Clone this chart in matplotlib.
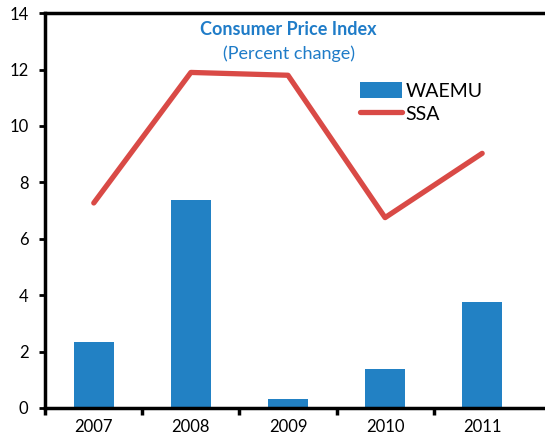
import numpy as np
import matplotlib.pyplot as plt

plt.rcParams['font.family'] = ['Lato', 'DejaVu Sans']

years = ["2007", "2008", "2009", "2010", "2011"]
waemu = [2.33, 7.38, 0.33, 1.37, 3.76]
ssa = [7.27, 11.9, 11.8, 6.75, 9.03]

x = np.arange(len(years))

fig = plt.figure(figsize=(5.45, 4.41), dpi=100)
ax = fig.add_axes([0.083, 0.075, 0.93, 0.895])

bars = ax.bar(x, waemu, width=0.41, color="#2281c4", label="WAEMU", zorder=2)
line, = ax.plot(x, ssa, color="#d94a46", linewidth=3.8, solid_capstyle="round", label="SSA", zorder=3)

ax.set_xlim(-0.5, 4.72)
ax.set_ylim(0, 14)
ax.set_yticks(np.arange(0, 15, 2))
ax.set_xticks(x)
ax.set_xticklabels(years)
ax.set_xticks(np.arange(-0.5, 4.0, 1.0), minor=True)
ax.tick_params(axis="x", which="major", length=0, labelsize=12, pad=8)
ax.tick_params(axis="x", which="minor", length=5, width=2.5, direction="out")
ax.tick_params(axis="y", length=4, width=2, labelsize=12, pad=8)

for s in ax.spines.values():
    s.set_linewidth(2.5)
ax.spines["right"].set_visible(False)

ax.text(0.48, 0.945, "Consumer Price Index", transform=ax.transAxes, ha="center",
        fontsize=13, fontweight="bold", color="#1f7cc8")
ax.text(0.48, 0.885, "(Percent change)", transform=ax.transAxes, ha="center",
        fontsize=13, color="#1f7cc8")

ax.legend([bars, line], ["WAEMU", "SSA"], loc="upper left", bbox_to_anchor=(0.605, 0.845),
          frameon=False, fontsize=14, handlelength=2.2, handleheight=0.9,
          handletextpad=0.15, labelspacing=0.25, borderaxespad=0)

fig.savefig("out.png", dpi=100)
